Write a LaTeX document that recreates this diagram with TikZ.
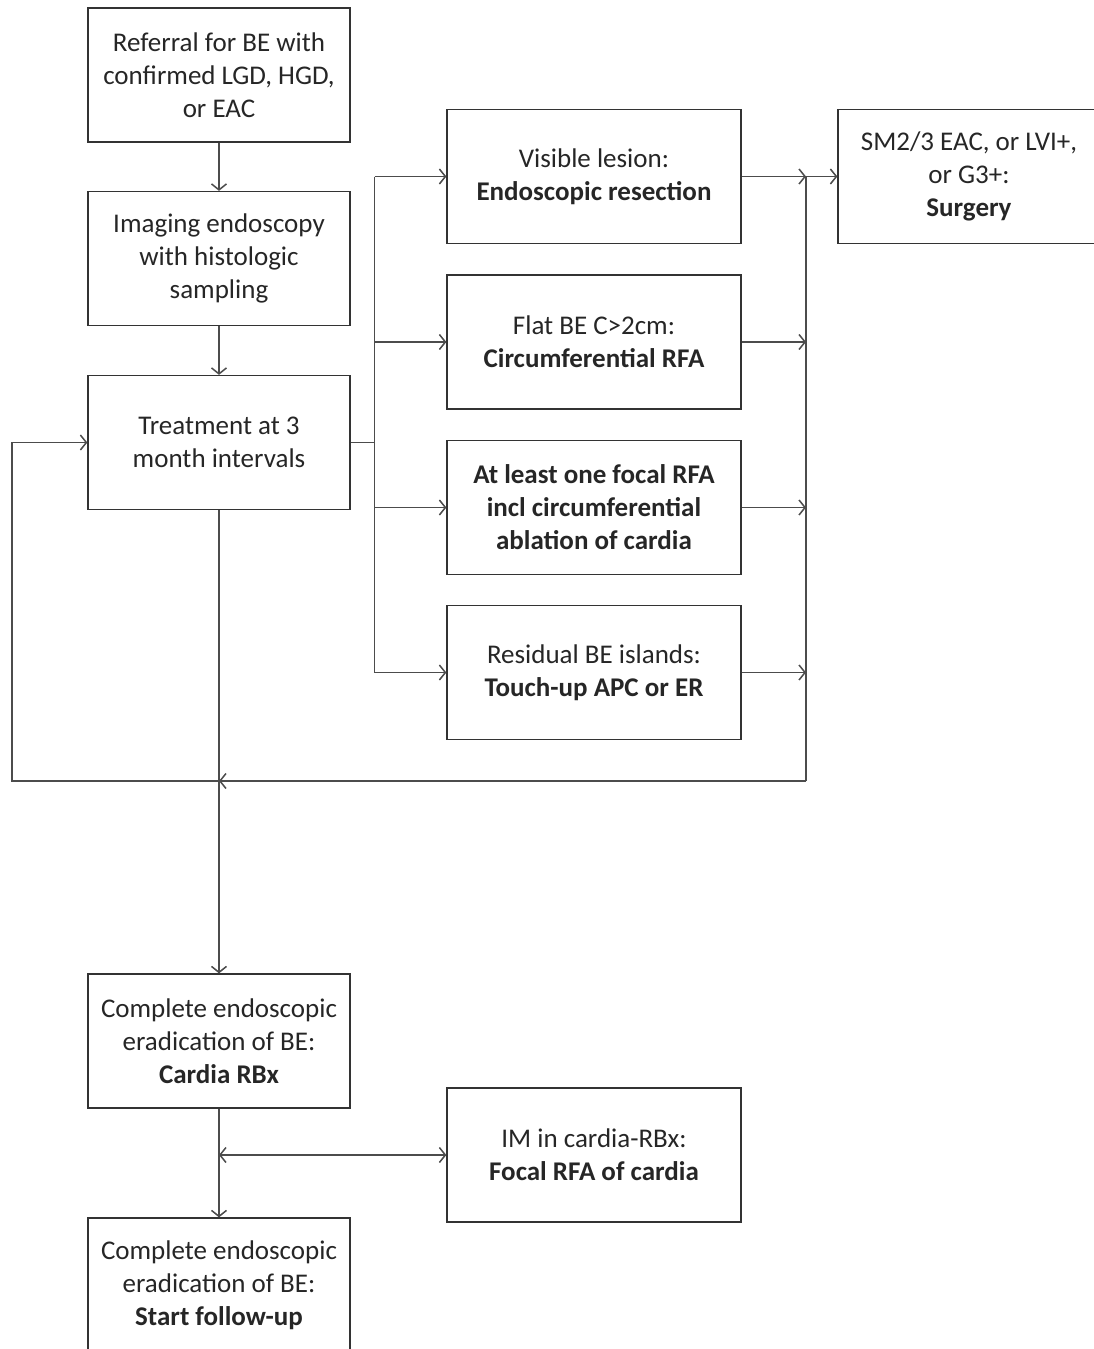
\documentclass[tikz,border=0pt]{standalone}
\usepackage{fontspec}
\setmainfont{Carlito}
\usetikzlibrary{positioning, arrows.meta}
\tikzset{
  >={Straight Barb[length=6pt, width=15pt]},
  box/.style={draw=black!80, line width=1.3pt, minimum width=262pt, minimum height=134pt, align=center, inner sep=4pt, text=black!85, font=\fontsize{27}{33}\selectfont},
  wbox/.style={box, minimum width=294pt},
  line/.style={draw=black!70, line width=1.5pt},
}

\begin{document}
\begin{tikzpicture}[x=1pt, y=-1pt]
  \useasboundingbox (0,0) rectangle (1093,1349);

  \node[box] (ref) at (219,75) {Referral for BE with\\ confirmed LGD, HGD,\\ or EAC};
  \node[box] (img) at (219,258.5) {Imaging endoscopy\\ with histologic\\ sampling};
  \node[box] (treat) at (219,442.5) {Treatment at 3\\ month intervals};

  \node[wbox] (vis) at (594,176.5) {Visible lesion:\\ \textbf{Endoscopic resection}};
  \node[wbox] (flat) at (594,342) {Flat BE C>2cm:\\ \textbf{Circumferential RFA}};
  \node[wbox] (foc) at (594,507.5) {\textbf{At least one focal RFA}\\ \textbf{incl circumferential}\\ \textbf{ablation of cardia}};
  \node[wbox] (isl) at (594,672.5) {Residual BE islands:\\ \textbf{Touch-up APC or ER}};
  \node[box] (surg) at (969,176.5) {SM2/3 EAC, or LVI+,\\ or G3+:\\ \textbf{Surgery}};

  \node[box] (cfin) at (219,1041) {Complete endoscopic\\ eradication of BE:\\ \textbf{Cardia RBx}};
  \node[wbox] (im) at (594,1155) {IM in cardia-RBx:\\ \textbf{Focal RFA of cardia}};
  \node[box] (fup) at (219,1285) {Complete endoscopic\\ eradication of BE:\\ \textbf{Start follow-up}};

  \draw[line, ->] (ref) -- (img);
  \draw[line, ->] (img) -- (treat);

  \coordinate[right=24pt of treat.east] (sp);
  \draw[line] (treat) -- (sp);
  \draw[line] (sp |- vis) -- (sp |- isl);
  \foreach \n in {vis, flat, foc, isl}
    \draw[line, ->] (sp |- \n) -- (\n);

  \coordinate (col) at (806,781);
  \draw[line, ->] (vis) -- (surg);
  \draw[line, ->] (vis) -- (col |- vis);
  \foreach \n in {flat, foc, isl}
    \draw[line, ->] (\n) -- (col |- \n);
  \draw[line] (col |- vis) -- (col);

  \coordinate (mrg) at (treat |- col);
  \coordinate (lft) at (12,781);
  \draw[line, ->] (col) -- (mrg);
  \draw[line, ->] (mrg) -- (lft) -- (lft |- treat) -- (treat);

  \draw[line, ->] (treat) -- (cfin);
  \draw[line, ->] (cfin) -- (fup);
  \coordinate (br) at (cfin |- im);
  \draw[line, <->] (br) -- (im);
\end{tikzpicture}
\end{document}
